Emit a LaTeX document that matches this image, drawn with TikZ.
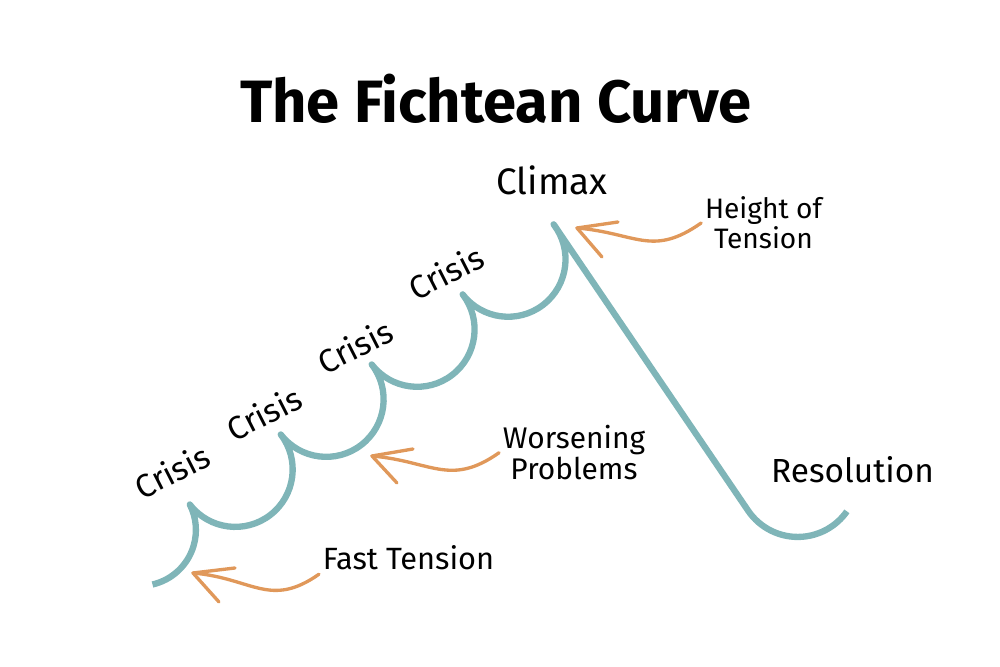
\documentclass[tikz,border=0pt]{standalone}
\usepackage{fontspec}
\setmainfont{Fira Sans}
\usetikzlibrary{calc}
\definecolor{curveteal}{HTML}{7FB5B8}
\definecolor{arroworange}{HTML}{E0985A}
\tikzset{
  every node/.style={inner sep=2pt},
  title/.style   = {font=\fontsize{34}{40}\selectfont\bfseries},
  note/.style    = {align=center, font=\fontsize{17}{17.5}\selectfont},
  stage/.style   = {font=\fontsize{19}{22}\selectfont},
  crisis/.style  = {rotate=27, font=\fontsize{18.5}{20}\selectfont},
  story/.style   = {draw=curveteal, line width=3.6pt, line join=round},
  pointer/.style = {draw=arroworange, line width=1.9pt, line cap=round, line join=round},
}

\begin{document}
\begin{tikzpicture}
  \useasboundingbox (0,0) rectangle (20,13.34);

  % ---- title ----
  \node[title] (ttl) at (9.92,11.37) {The Fichtean Curve};

  % ---- the curve: crises, climax, resolution ----
  \draw[story] (3.05,1.65) arc[start angle=283, end angle=387, radius=1.12]
    arc[start angle=217.6, end angle=397.6, radius=1.148]
    arc[start angle=217.6, end angle=397.6, radius=1.148]
    arc[start angle=217.6, end angle=397.6, radius=1.148]
    arc[start angle=217.6, end angle=397.6, radius=1.148]
    -- (14.96,3.13) arc[start angle=214, end angle=325, radius=1.2];

  % ---- crisis labels ----
  \node[crisis] (cr1) at (3.44,3.92) {Crisis};
  \node[crisis] (cr2) at (5.28,5.08) {Crisis};
  \node[crisis] (cr3) at (7.10,6.42) {Crisis};
  \node[crisis] (cr4) at (8.92,7.90) {Crisis};

  % ---- stage labels ----
  \node[stage, font=\fontsize{21}{24}\selectfont, anchor=base] (clx) at (11.04,9.44) {Climax};
  \node[stage, anchor=base] (res) at (17.05,3.68) {Resolution};

  % ---- notes ----
  \node[note, font=\fontsize{16}{17}\selectfont] (hot) at (15.27,8.88) {Height of\\Tension};
  \node[note] (wp)  at (11.48,4.285) {Worsening\\Problems};
  \node[note, font=\fontsize{17.5}{18}\selectfont, anchor=base] (ft) at (8.17,1.94) {Fast Tension};

  \coordinate (tipHot) at (11.54,8.78);
  \coordinate (tipWp)  at (7.44,4.22);
  \coordinate (tipFt)  at (3.86,1.88);

  % ---- orange arrows ----
  \draw[pointer] (hot.west) .. controls +(215:1.2) and +(-5:1.2) .. (tipHot);
  \draw[pointer] ([shift={(0.82,0.12)}]tipHot) -- (tipHot) -- ++(0.5,-0.58);
  \draw[pointer] (wp.west) .. controls +(215:1.2) and +(-5:1.2) .. (tipWp);
  \draw[pointer] ([shift={(0.82,0.14)}]tipWp) -- (tipWp) -- ++(0.5,-0.54);
  \draw[pointer] (ft.south west) .. controls +(215:1.2) and +(-5:1.2) .. (tipFt);
  \draw[pointer] ([shift={(0.84,0.10)}]tipFt) -- (tipFt) -- ++(0.52,-0.58);
\end{tikzpicture}
\end{document}
